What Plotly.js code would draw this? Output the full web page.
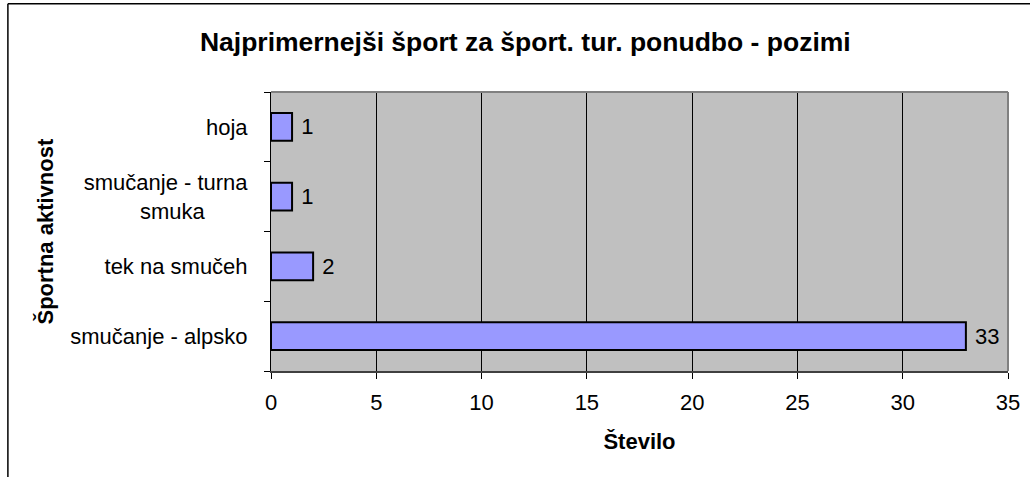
<!DOCTYPE html>
<html><head><meta charset="utf-8">
<script src="https://cdn.plot.ly/plotly-3.0.1.min.js"></script>
<style>body{margin:0;background:#fff}#c{width:1030px;height:477px}</style>
</head><body><div id="c"></div>
<script>
const categories = ["smučanje - alpsko", "tek na smučeh", "smučanje - turna<br>smuka", "hoja"];
const values = [33, 2, 1, 1];
const xTicks = [0, 5, 10, 15, 20, 25, 30, 35];
const NB = "\u00a0";
const tickLabels = ["smučanje - alpsko", "tek na smučeh", "smučanje - turna<br>smuka" + NB.repeat(7), "hoja"];

const F = "Liberation Sans, Arial, sans-serif";
const FS = 22;
const trace = {
  type: "bar", orientation: "h",
  y: categories, x: values,
  text: values.map(v => NB + v), textposition: "outside", cliponaxis: false,
  textfont: {family: F, size: FS, color: "#000"},
  marker: {color: "#9999FF", line: {color: "#000", width: 2}},
  width: 0.4, hoverinfo: "none"
};
const layout = {
  width: 1030, height: 477,
  margin: {l: 271, r: 22, t: 92, b: 106},
  paper_bgcolor: "#fff", plot_bgcolor: "#C0C0C0",
  showlegend: false,
  font: {family: F, size: FS, color: "#000"},
  title: {text: "<b>Najprimernejši šport za šport. tur. ponudbo - pozimi</b>",
          font: {family: F, size: 26.5, color: "#000"}, x: 0.510, xanchor: "center", y: 0.912, yanchor: "middle"},
  xaxis: {
    range: [0, 35], tickvals: xTicks, ticktext: xTicks.map(String),
    showgrid: true, gridcolor: "#000", gridwidth: 1, zeroline: false,
    showline: true, linecolor: "#404040", linewidth: 2,
    ticks: "outside", ticklen: 6, tickcolor: "#000", tickfont: {size: FS},
    ticklabelstandoff: 5,
    title: {text: "<b>Število</b>", font: {size: FS}, standoff: 19}
  },
  yaxis: {
    type: "category", categoryorder: "array", categoryarray: categories,
    tickvals: categories, ticktext: tickLabels,
    showgrid: false, zeroline: false,
    showline: true, linecolor: "#000", linewidth: 1,
    ticks: "outside", ticklen: 6, tickcolor: "#000", tickson: "boundaries",
    tickfont: {size: FS}, ticklabelstandoff: 18
  },
  annotations: [
    {text: "<b>Športna aktivnost</b>", textangle: -90, xref: "paper", yref: "paper",
     x: -0.3066, y: 0.5, xanchor: "center", yanchor: "middle", showarrow: false,
     font: {family: F, size: FS, color: "#000"}}
  ],
  shapes: [
    {type: "line", xref: "paper", yref: "paper", x0: 0, x1: 1, y0: 1, y1: 1, line: {color: "#808080", width: 2}},
    {type: "line", xref: "paper", yref: "paper", x0: 1, x1: 1, y0: 0, y1: 1, line: {color: "#808080", width: 2}},
    {type: "line", xref: "paper", yref: "paper", x0: -0.357, x1: 1.03, y0: 1.3165, y1: 1.3165, line: {color: "#000", width: 1.5}},
    {type: "line", xref: "paper", yref: "paper", x0: -0.357, x1: -0.357, y0: -0.4, y1: 1.3165, line: {color: "#000", width: 1.5}}
  ]
};
Plotly.newPlot("c", [trace], layout, {displayModeBar: false, staticPlot: true});
</script></body></html>
